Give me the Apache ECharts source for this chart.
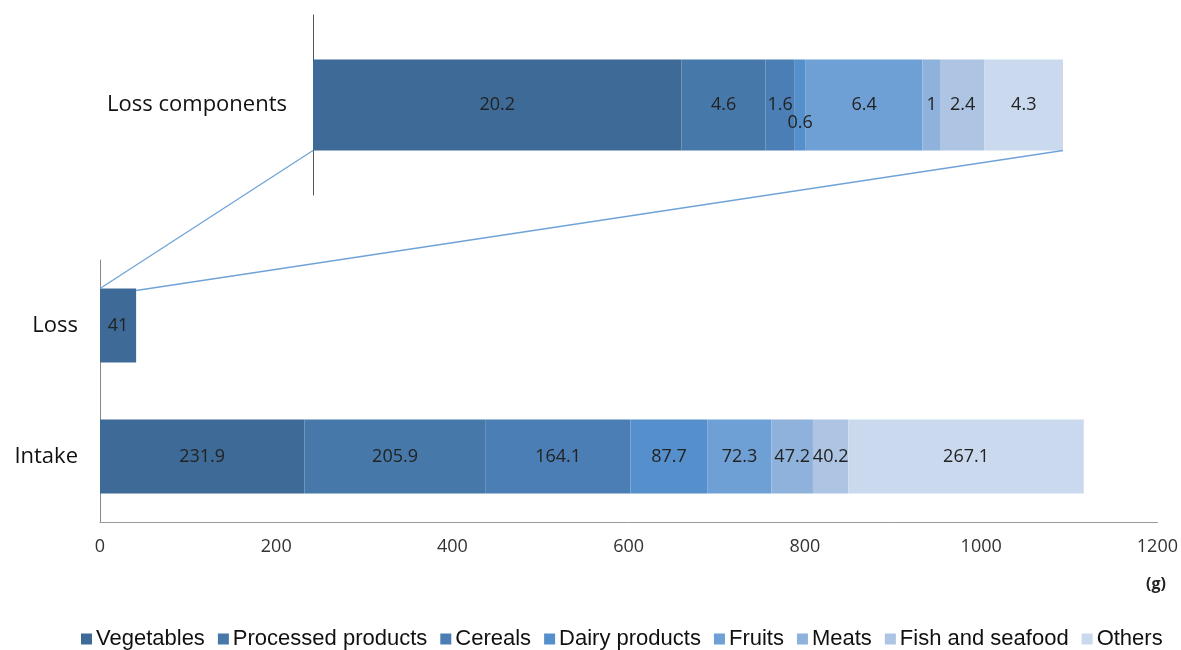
<!DOCTYPE html>
<html>
<head>
<meta charset="utf-8">
<script src="https://cdn.jsdelivr.net/npm/echarts@6/dist/echarts.min.js"></script>
<style>
  html, body { margin: 0; padding: 0; background: #fff; }
  #main { width: 1181px; height: 650px; }
</style>
</head>
<body>
<div id="main"></div>
<script>
// food groups (legend order)
const groups = ['Vegetables', 'Processed products', 'Cereals', 'Dairy products', 'Fruits', 'Meats', 'Fish and seafood', 'Others']
const colors = ['#3d6a96', '#4678aa', '#4a7eb4', '#5590cc', '#6fa0d5', '#8fb2dc', '#adc4e3', '#cad9ee']
const intake = [231.9, 205.9, 164.1, 87.7, 72.3, 47.2, 40.2, 267.1]
const lossParts = [20.2, 4.6, 1.6, 0.6, 6.4, 1, 2.4, 4.3]
const lossTotal = 41
const rows = ['Intake', 'Loss']
const xTicks = [0, 200, 400, 600, 800, 1000, 1200]

const chartDom = document.getElementById('main')
const myChart = echarts.init(chartDom)

const labelFont = { fontFamily: 'Open Sans', fontSize: 18, color: '#222' }
const partsMax = lossParts.reduce((a, b) => a + b, 0)

const series = []
groups.forEach((g, i) => {
  // bottom grid: intake row
  series.push({
    name: g,
    type: 'bar',
    stack: 'bottom',
    xAxisIndex: 1,
    yAxisIndex: 1,
    barWidth: 74,
    itemStyle: { color: colors[i] },
    label: { show: true, position: 'inside', ...labelFont },
    data: [intake[i], '-'],
  })
  // top grid: loss components
  series.push({
    name: g,
    type: 'bar',
    stack: 'top',
    xAxisIndex: 0,
    yAxisIndex: 0,
    barWidth: 91,
    itemStyle: { color: colors[i] },
    label: {
      show: true,
      position: 'inside',
      ...labelFont,
      offset: i === 3 ? [0, 18] : [0, 0],
    },
    data: [lossParts[i]],
  })
})
series.push({
  name: 'Loss',
  type: 'bar',
  stack: 'bottom',
  xAxisIndex: 1,
  yAxisIndex: 1,
  barWidth: 74,
  itemStyle: { color: colors[0] },
  label: { show: true, position: 'inside', ...labelFont },
  data: ['-', lossTotal],
})

const option = {
  animation: false,
  textStyle: { fontFamily: 'Open Sans' },
  grid: [
    { left: 313, right: 118, top: 15, height: 180 },
    { left: 100, right: 23, top: 260, bottom: 128 },
  ],
  xAxis: [
    { gridIndex: 0, type: 'value', min: 0, max: partsMax, show: false },
    {
      gridIndex: 1,
      type: 'value',
      min: 0,
      max: xTicks[xTicks.length - 1],
      interval: 200,
      axisLine: { show: true, lineStyle: { color: '#999' } },
      axisTick: { show: false },
      splitLine: { show: false },
      axisLabel: {
        fontFamily: 'Open Sans',
        fontSize: 18,
        color: '#333',
        margin: 16,
        formatter: (v) => String(v),
      },
    },
  ],
  yAxis: [
    {
      gridIndex: 0,
      type: 'category',
      data: ['Loss components'],
      axisLine: { show: true, lineStyle: { color: '#555' } },
      axisTick: { show: false },
      axisLabel: { fontFamily: 'Open Sans', fontSize: 22, color: '#111', margin: 26, padding: [0, 0, 2, 0] },
    },
    {
      gridIndex: 1,
      type: 'category',
      data: rows,
      axisLine: { show: true, lineStyle: { color: '#888' } },
      axisTick: { show: false },
      axisLabel: { fontFamily: 'Open Sans', fontSize: 22, color: '#111', margin: 22 },
    },
  ],
  legend: {
    data: groups,
    bottom: -5,
    left: 76,
    icon: 'rect',
    itemWidth: 11,
    itemHeight: 11,
    itemGap: 13,
    textStyle: { fontFamily: 'Liberation Sans', fontSize: 22, color: '#111', padding: [0, 0, 0, -1] },
  },
  series: series,
}
option && myChart.setOption(option)

// zoom-out connector lines from the Loss bar to the components bar
const lossY = myChart.convertToPixel({ yAxisIndex: 1 }, 'Loss')
const topY = myChart.convertToPixel({ yAxisIndex: 0 }, 'Loss components')
const x0 = myChart.convertToPixel({ xAxisIndex: 1 }, 0)
const x1 = myChart.convertToPixel({ xAxisIndex: 1 }, lossTotal)
const t0 = myChart.convertToPixel({ xAxisIndex: 0 }, 0)
const t1 = myChart.convertToPixel({ xAxisIndex: 0 }, partsMax)
const lossTop = lossY - 37
const partsBottom = topY + 45.5
myChart.setOption({
  graphic: [
    { type: 'line', shape: { x1: x0, y1: lossTop, x2: t0, y2: partsBottom }, style: { stroke: '#6fa3d8', lineWidth: 1.3 }, z: 10 },
    { type: 'line', shape: { x1: x1, y1: lossTop + 2, x2: t1, y2: partsBottom }, style: { stroke: '#6fa3d8', lineWidth: 1.3 }, z: 10 },
    { type: 'text', left: 1146, top: 576, style: { text: '(g)', font: 'bold 16px "Open Sans"', fill: '#222' } },
  ],
})
</script>
</body>
</html>
